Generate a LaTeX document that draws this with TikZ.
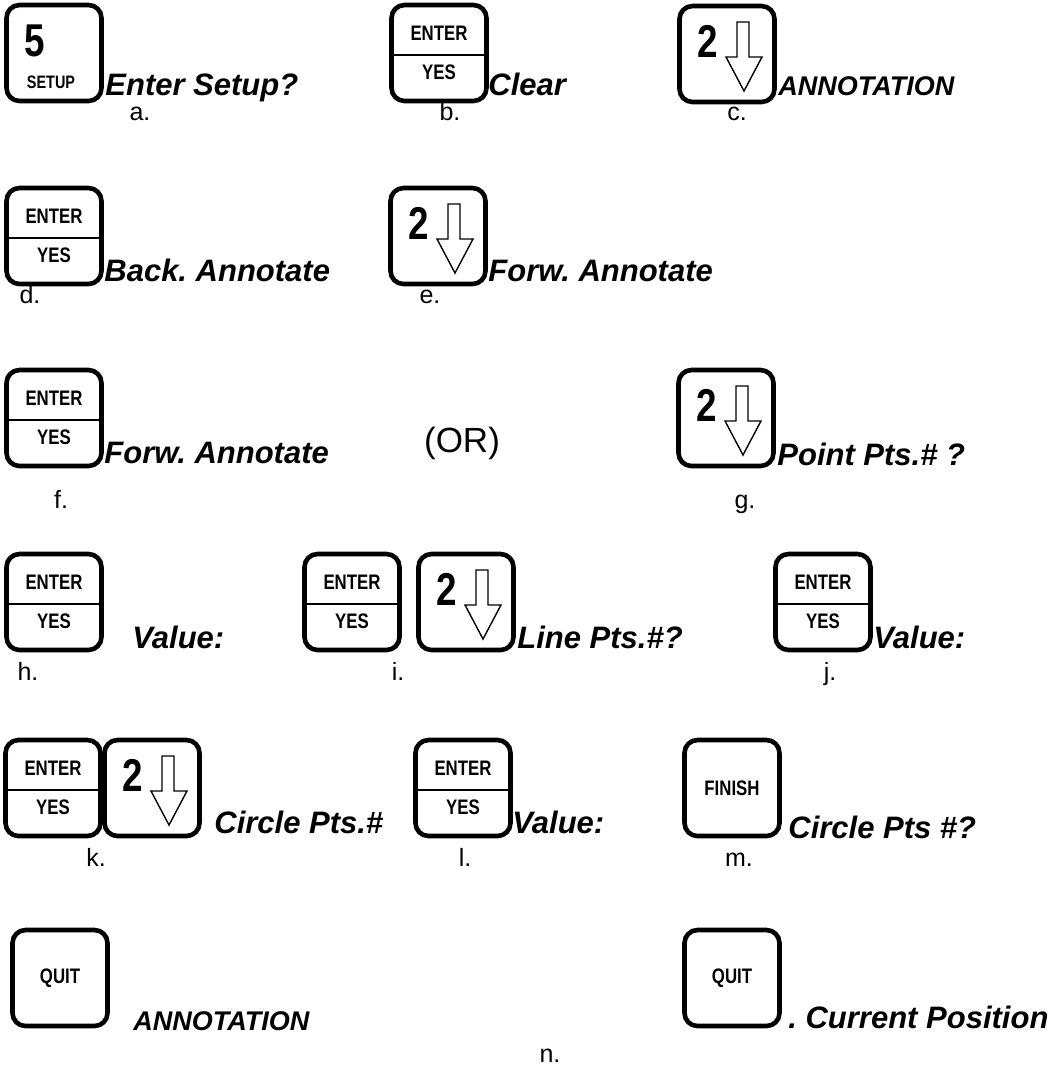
\documentclass[tikz,border=0pt]{standalone}
\usepackage{fontspec}
\setmainfont{Liberation Sans}
\newfontfamily\keyfont{Liberation Sans}[FakeStretch=0.8]
\usetikzlibrary{positioning}
\frenchspacing

\tikzset{
  keybox/.style={draw, line width=2.3pt, rounded corners=6.5pt, minimum width=47.5pt,
    minimum height=48pt, inner sep=0pt, outer sep=0pt},
  keyline/.style={line width=1pt},
  keyarrow/.style={line width=0.7pt, line join=miter},
  keylabel/.style={font=\keyfont\bfseries\fontsize{10.5}{10.5}\selectfont, inner sep=0pt},
  keydigit/.style={font=\keyfont\bfseries\fontsize{23}{23}\selectfont, inner sep=0pt},
  prompt/.style={font=\bfseries\itshape\fontsize{15.5}{15.5}\selectfont, anchor=base west, inner sep=0pt},
  capsprompt/.style={prompt, font=\bfseries\itshape\fontsize{13.5}{13.5}\selectfont},
  itemlabel/.style={font=\fontsize{12.5}{12.5}\selectfont, anchor=base, inner sep=0pt},
}

% ENTER / YES key: name, centre
\newcommand{\enterkey}[2]{%
  \node[keybox] (#1) at (#2) {};
  \draw[keyline] ([yshift=-1pt]#1.west) -- ([yshift=-1pt]#1.east);
  \node[keylabel] (#1-enter) at ([yshift=10pt]#1.center) {ENTER};
  \node[keylabel] (#1-yes) at ([yshift=-9.5pt]#1.center) {YES};
}
% 2 / down arrow key: name, centre
\newcommand{\downkey}[2]{%
  \node[keybox] (#1) at (#2) {};
  \begin{scope}[shift={(#1.center)}, x=1pt, y=1pt]
    \node[keydigit] (#1-num) at (-9.5,6.5) {2};
    \draw[keyarrow] (5,16) -- (11,16) -- (11,-1.5) -- (17.5,-1.5) -- (8.5,-18.5)
      -- (-0.5,-1.5) -- (5,-1.5) -- cycle;
  \end{scope}
}

\begin{document}
\begin{tikzpicture}[x=0.5pt, y=-0.5pt]
  \useasboundingbox (0,0) rectangle (1059,1073);

  % a.
  \node[keybox] (setup) at (54,53) {};
  \node[keydigit] (setup-num) at ([shift={(-9.5pt,6pt)}]setup.center) {5};
  \node[keylabel, font=\keyfont\bfseries\fontsize{9}{9}\selectfont] (setup-txt)
    at ([shift={(-1.5pt,-14.5pt)}]setup.center) {SETUP};
  \node[prompt] (ta) at (105,95) {Enter Setup?};
  \node[itemlabel] (la) at (140,120) {a.};
  % b.
  \enterkey{kb}{439,53}
  \node[prompt] (tb) at (488,95) {Clear};
  \node[itemlabel] (lb) at (450,120) {b.};
  % c.
  \downkey{kc}{727,54}
  \node[capsprompt] (tc) at (778,95) {ANNOTATION};
  \node[itemlabel] (lc) at (737,120) {c.};

  % d. and e.
  \enterkey{kd}{54,236}
  \node[prompt] (td) at (104,281) {Back. Annotate};
  \node[itemlabel] (ld) at (30,303) {d.};
  \downkey{ke}{438,236}
  \node[prompt] (te) at (488,281) {Forw. Annotate};
  \node[itemlabel] (le) at (430,303) {e.};

  % f. (OR) g.
  \enterkey{kf}{54,418}
  \node[prompt] (tf) at (104,463) {Forw. Annotate};
  \node[itemlabel] (lf) at (61,508) {f.};
  \node[itemlabel, font=\fontsize{17.5}{17.5}\selectfont] (or) at (462,452) {(OR)};
  \downkey{kg}{726,418}
  \node[prompt] (tg) at (777,465) {Point Pts.\# ?};
  \node[itemlabel] (lg) at (745,508) {g.};

  % h. i. j.
  \enterkey{kh}{54,602}
  \node[prompt] (th) at (132,648) {Value:};
  \node[itemlabel] (lh) at (28,680) {h.};
  \enterkey{ki}{352,602}
  \downkey{kii}{466,602}
  \node[prompt] (ti) at (517,648) {Line Pts.\#?};
  \node[itemlabel] (li) at (398,680) {i.};
  \enterkey{kj}{823,602}
  \node[prompt] (tj) at (873,648) {Value:};
  \node[itemlabel] (lj) at (830,680) {j.};

  % k. l. m.
  \enterkey{kk}{53,788}
  \downkey{kkk}{152,788}
  \node[prompt] (tk) at (214,833) {Circle Pts.\#};
  \node[itemlabel] (lk) at (96,866) {k.};
  \enterkey{kl}{463,788}
  \node[prompt] (tl) at (512,833) {Value:};
  \node[itemlabel] (ll) at (465,866) {l.};
  \node[keybox, keylabel] (km) at (732,788) {FINISH};
  \node[prompt] (tm) at (788,838) {Circle Pts \#?};
  \node[itemlabel] (lm) at (739,866) {m.};

  % n.
  \node[keybox, keylabel] (kn) at (60,978) {QUIT};
  \node[capsprompt] (tn) at (133,1030) {ANNOTATION};
  \node[keybox, keylabel] (knn) at (732,978) {QUIT};
  \node[prompt] (tnn) at (788,1028) {. Current Position};
  \node[itemlabel] (ln) at (550,1062) {n.};
\end{tikzpicture}
\end{document}
